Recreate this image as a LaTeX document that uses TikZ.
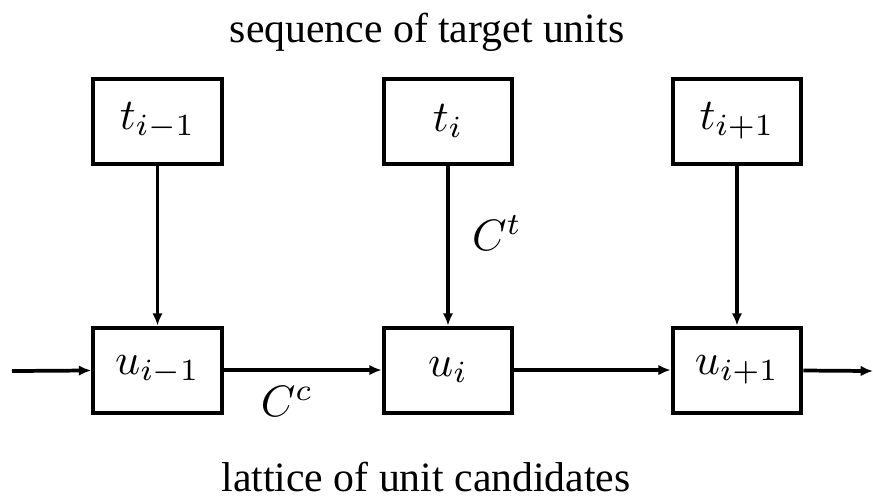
\documentclass[tikz,border=0pt]{standalone}
\usepackage{fontspec}
\setmainfont{Liberation Serif}
\usepackage{tikz}
\usetikzlibrary{arrows.meta,positioning}

\begin{document}
\begin{tikzpicture}[font=\fontsize{9.5pt}{11pt}\selectfont,
  unit/.style={draw=black, line width=0.9pt, minimum width=10.3mm, minimum height=6.8mm,
               inner sep=0pt, font=\normalsize},
  ar/.style={-{Latex[length=2.8pt,width=2.4pt]}, line width=0.85pt},
  lbl/.style={font=\normalsize}]
\useasboundingbox (0,0) rectangle (6.984,-3.976);
\node[anchor=base] (top) at (3.416,-0.336) {sequence of target units};
\node[unit] (t1) at (1.26,-0.968) {$t_{i-1}$};
\node[unit] (t2) at (3.584,-0.968) {$t_i$};
\node[unit] (t3) at (5.896,-0.968) {$t_{i+1}$};

\node[unit] (u1) at (1.26,-2.96) {$u_{i-1}$};
\node[unit] (u2) at (3.584,-2.96) {$u_i$};
\node[unit] (u3) at (5.896,-2.96) {$u_{i+1}$};
\coordinate (in) at (0.096,-2.968);
\coordinate (out) at (6.984,-2.968);
\node[anchor=base] (bot) at (3.408,-3.93) {lattice of unit candidates};

\draw[ar] (t1) -- (u1);
\draw[ar] (t2) -- node[pos=0.42, right=0.06cm, lbl] {$C^t$} (u2);
\draw[ar] (t3) -- (u3);
\draw[ar] (in) -- (u1);
\draw[ar] (u1) -- node[pos=0.4, below, lbl] {$C^c$} (u2);
\draw[ar] (u2) -- (u3);
\draw[ar] (u3) -- (out);
\end{tikzpicture}
\end{document}
